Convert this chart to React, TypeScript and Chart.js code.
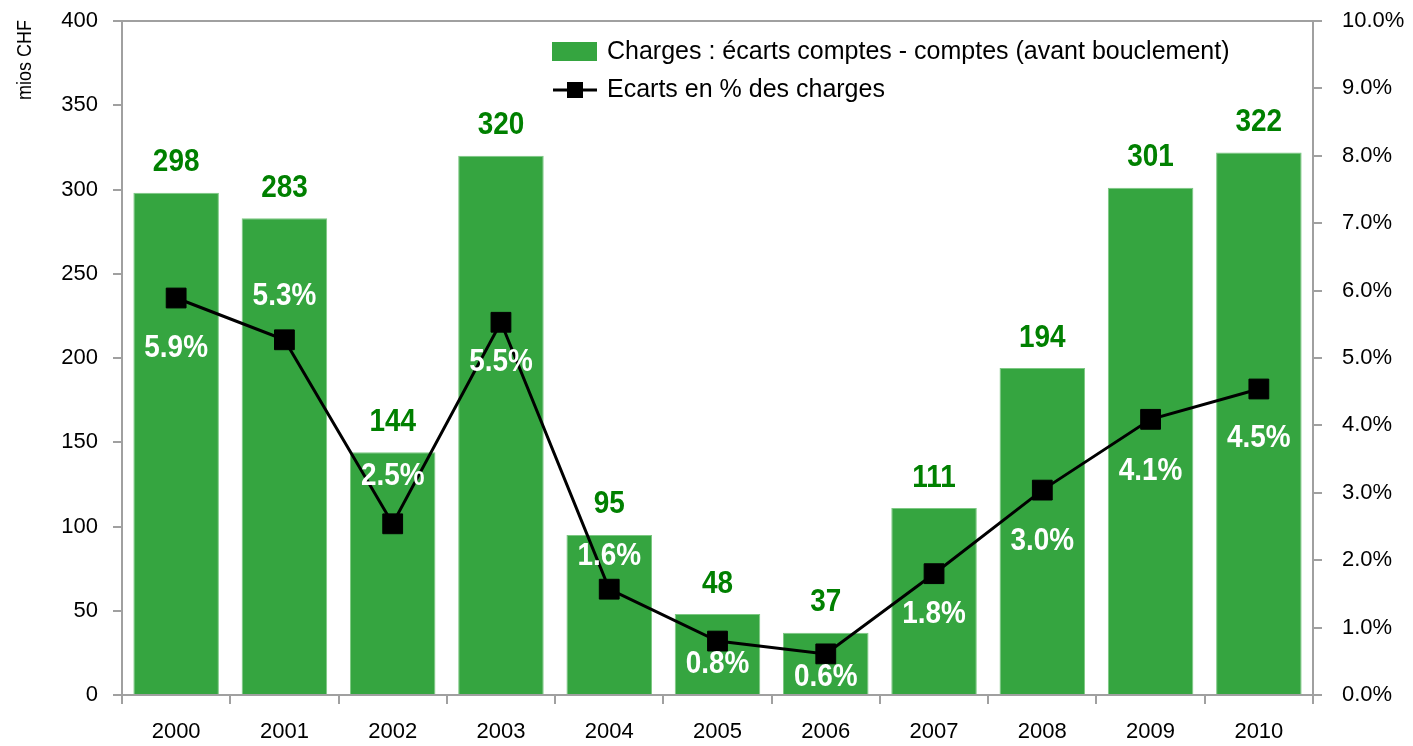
import React, { useEffect, useRef } from "react";
import { Chart, registerables } from "chart.js";

Chart.register(...registerables);

const years = ["2000", "2001", "2002", "2003", "2004", "2005", "2006", "2007", "2008", "2009", "2010"];
const charges = [298, 283, 144, 320, 95, 48, 37, 111, 194, 301, 322];
const ecartsPct = [5.89, 5.27, 2.54, 5.53, 1.57, 0.8, 0.61, 1.8, 3.04, 4.09, 4.54];
// vertical offset (px) of each percentage label relative to its point
const pctLabelOffsets = [50, -43, -47, 40, -33, 23, 24, 41, 51, 52, 49];

const barLabel = "Charges : écarts comptes - comptes (avant bouclement)";
const lineLabel = "Ecarts en % des charges";
const axisTitle = "mios CHF";

const FONT = '"Liberation Sans", Arial, sans-serif';
const BAR_COLOR = "#35a540";
const LABEL_GREEN = "#008000";
const AXIS_GRAY = "#a0a0a0";

function narrowText(ctx: any, text: string, x: number, y: number, sx: number) {
  ctx.save();
  ctx.translate(x, y);
  ctx.scale(sx, 1);
  ctx.fillText(text, 0, 0);
  ctx.restore();
}

const overlayPlugin = {
  id: "overlay",
  afterDatasetsDraw(chart: any) {
    const ctx = chart.ctx;
    const area = chart.chartArea;
    ctx.save();
    // top border
    ctx.strokeStyle = AXIS_GRAY;
    ctx.lineWidth = 2;
    ctx.beginPath();
    ctx.moveTo(area.left, area.top);
    ctx.lineTo(area.right, area.top);
    ctx.stroke();

    // bar value labels
    const barMeta = chart.getDatasetMeta(1);
    ctx.font = `bold 31px ${FONT}`;
    ctx.textAlign = "center";
    ctx.textBaseline = "middle";
    ctx.fillStyle = LABEL_GREEN;
    barMeta.data.forEach((el: any, i: number) => {
      narrowText(ctx, String(charges[i]), el.x, el.y - 30, 0.9);
    });

    // percentage labels
    const lineMeta = chart.getDatasetMeta(0);
    ctx.fillStyle = "#ffffff";
    lineMeta.data.forEach((el: any, i: number) => {
      narrowText(ctx, ecartsPct[i].toFixed(1) + "%", el.x, el.y + pctLabelOffsets[i], 0.9);
    });

    // axis title
    ctx.save();
    ctx.translate(25, 60);
    ctx.rotate(-Math.PI / 2);
    ctx.font = `20px ${FONT}`;
    ctx.fillStyle = "#000";
    ctx.scale(0.9, 1);
    ctx.fillText(axisTitle, 0, 0);
    ctx.restore();

    // legend
    ctx.fillStyle = BAR_COLOR;
    ctx.fillRect(552, 42, 45, 19);
    ctx.strokeStyle = "#000";
    ctx.lineWidth = 3;
    ctx.beginPath();
    ctx.moveTo(553, 90);
    ctx.lineTo(597, 90);
    ctx.stroke();
    ctx.fillStyle = "#000";
    ctx.fillRect(567, 82, 16, 16);
    ctx.font = `25px ${FONT}`;
    ctx.textAlign = "left";
    ctx.textBaseline = "middle";
    ctx.fillText(barLabel, 607, 52);
    ctx.fillText(lineLabel, 607, 90);
    ctx.restore();
  },
};

export default function App() {
  const ref = useRef<HTMLCanvasElement>(null);
  useEffect(() => {
    const canvas = ref.current!;
    const chart = new Chart(canvas, {
      type: "bar",
      data: {
        labels: years,
        datasets: [
          {
            type: "line",
            label: lineLabel,
            data: ecartsPct,
            yAxisID: "y1",
            borderColor: "#000",
            backgroundColor: "#000",
            borderWidth: 3,
            pointStyle: "rect",
            pointRadius: 14,
            pointBorderWidth: 1,
            pointBorderColor: "#000",
            pointBackgroundColor: "#000",
            order: 0,
          } as any,
          {
            type: "bar",
            label: barLabel,
            data: charges,
            yAxisID: "y",
            backgroundColor: BAR_COLOR,
            borderColor: "#7cc882",
            borderWidth: 1,
            categoryPercentage: 0.79,
            barPercentage: 1,
            order: 1,
          } as any,
        ],
      },
      options: {
        responsive: false,
        animation: false,
        layout: { padding: { top: 21, left: 0, right: 0, bottom: 0 } },
        plugins: { legend: { display: false }, tooltip: { enabled: false } },
        scales: {
          x: {
            offset: true,
            grid: { offset: true, drawOnChartArea: false, tickLength: 9, color: AXIS_GRAY, lineWidth: 2 },
            border: { color: AXIS_GRAY, width: 2 },
            ticks: { color: "#000", font: { family: FONT, size: 22 }, padding: 15 },
            afterFit: (s: any) => { s.height = 51; s.paddingLeft = 0; s.paddingRight = 0; },
          },
          y: {
            position: "left",
            min: 0,
            max: 400,
            ticks: { stepSize: 50, color: "#000", font: { family: FONT, size: 22 }, padding: 15 },
            grid: { drawOnChartArea: false, tickLength: 9, color: AXIS_GRAY, lineWidth: 2 },
            border: { color: AXIS_GRAY, width: 2 },
            afterFit: (s: any) => { s.width = 122; s.paddingTop = 0; s.paddingBottom = 0; },
          },
          y1: {
            position: "right",
            min: 0,
            max: 10,
            ticks: {
              stepSize: 1,
              color: "#000",
              font: { family: FONT, size: 22 },
              padding: 20,
              callback: (v: any) => Number(v).toFixed(1) + "%",
            },
            grid: { drawOnChartArea: false, tickLength: 9, color: AXIS_GRAY, lineWidth: 2 },
            border: { color: AXIS_GRAY, width: 2 },
            afterFit: (s: any) => { s.width = 100; s.paddingTop = 0; s.paddingBottom = 0; },
          },
        },
      } as any,
      plugins: [overlayPlugin],
    });
    return () => chart.destroy();
  }, []);
  return (
    <div style={{ position: "absolute", left: 0, top: 0, width: 1413, height: 746, background: "#fff" }}>
      <canvas ref={ref} width={1413} height={746} style={{ display: "block" }} />
    </div>
  );
}
